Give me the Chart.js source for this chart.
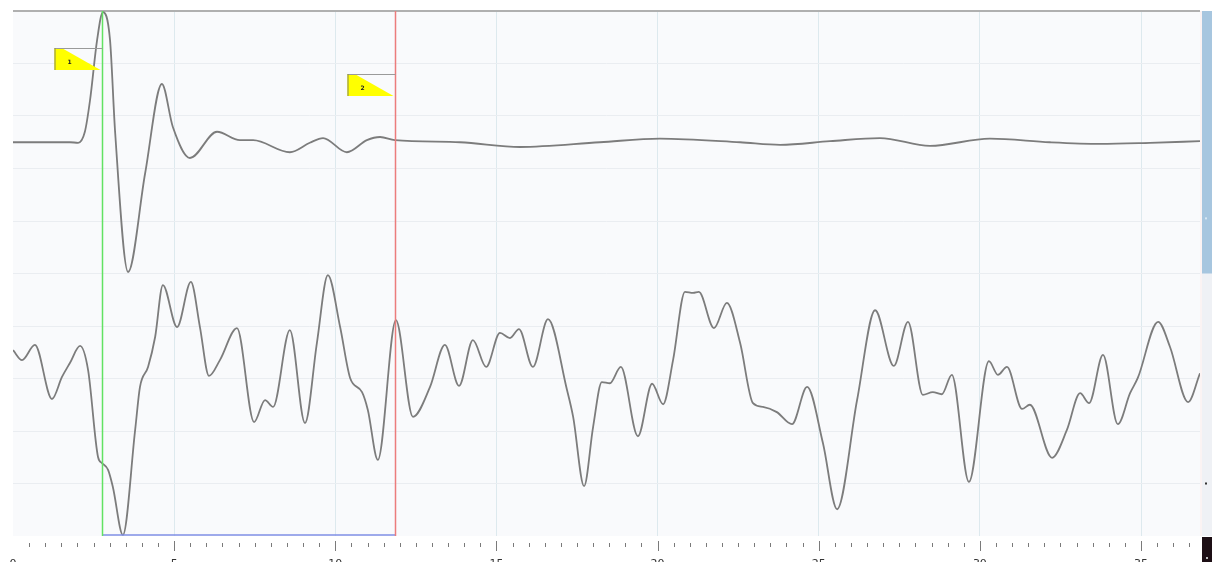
<!DOCTYPE html>
<html><head><meta charset="utf-8">
<script src="https://cdn.jsdelivr.net/npm/chart.js@4.4.1/dist/chart.umd.min.js"></script>
<style>
html,body{margin:0;padding:0;background:#fff;overflow:hidden;width:1212px;height:562px}
#wrap{position:relative;width:1212px;height:580px}
</style></head>
<body><div id="wrap"><canvas id="c"></canvas></div>
<script>
// x tick labels (every 5 units)
const xTickLabels = ['0','5','10','15','20','25','30','35'];

// upper trace
const topT = [0,1.77,2.02,2.23,2.39,2.61,2.79,3.01,3.17,3.57,
  4.10,4.62,4.96,5.49,6.33,7.04,7.45,8.59,9.21,9.62,
  10.36,10.98,11.39,11.85,13.87,15.73,18.21,20.07,22.56,23.80,
  25.35,26.90,28.45,30.31,32.17,33.73,35.28,36.83];
const topV = [7.50,7.50,7.49,7.70,8.30,9.45,9.98,9.45,7.68,5.03,
  6.91,8.61,7.79,7.20,7.70,7.54,7.54,7.31,7.49,7.58,
  7.31,7.54,7.60,7.54,7.50,7.41,7.50,7.57,7.50,7.45,
  7.52,7.58,7.43,7.57,7.50,7.47,7.49,7.52];

// lower trace
const botT = [0,0.28,0.68,1.21,1.52,1.77,2.08,2.33,2.64,2.76,
  2.95,3.10,3.41,3.79,3.94,4.19,4.41,4.65,5.09,5.52,
  5.80,6.08,6.42,6.95,7.48,7.82,8.07,8.59,9.06,9.43,
  9.77,10.15,10.46,10.83,11.01,11.32,11.88,12.41,12.94,13.40,
  13.84,14.27,14.68,15.11,15.42,15.70,16.13,16.60,17.19,17.38,
  17.72,18.00,18.27,18.52,18.86,19.39,19.83,20.17,20.48,20.85,
  21.10,21.28,21.75,22.15,22.56,22.96,23.27,23.70,24.17,24.64,
  25.13,25.57,26.19,26.75,27.33,27.77,28.23,28.54,28.82,29.13,
  29.66,30.28,30.56,30.84,31.31,31.55,32.24,32.70,33.11,33.39,
  33.82,34.28,34.66,34.90,35.53,35.90,36.46,36.83];
const botV = [3.54,3.35,3.64,2.61,3.03,3.30,3.62,3.16,1.50,1.39,
  1.26,0.93,0.02,2.02,2.84,3.22,3.79,4.78,3.98,4.84,
  3.98,3.05,3.35,3.96,2.17,2.59,2.46,3.92,2.15,3.68,
  4.97,3.98,3.01,2.74,2.40,1.45,4.11,2.27,2.84,3.64,
  2.86,3.73,3.22,3.87,3.77,3.94,3.22,4.13,2.78,2.27,
  0.95,2.08,2.93,2.91,3.22,1.90,2.90,2.51,3.35,4.65,
  4.63,4.65,3.96,4.44,3.68,2.53,2.46,2.36,2.13,2.84,
  1.77,0.51,2.59,4.30,3.24,4.08,2.69,2.74,2.70,3.07,
  1.03,3.33,3.07,3.22,2.42,2.50,1.49,2.02,2.72,2.53,
  3.45,2.13,2.72,3.01,4.08,3.60,2.55,3.10];

// cursor markers
const markerT = [2.76, 11.85];
const markerLabels = ['1','2'];
const markerColors = ['#62e262','#ec7c7c'];
const flagV = [9.30, 8.80];

const X_MAX = 36.83, Y_MIN = 0, Y_MAX = 10;

const toPts = (t, v) => t.map((x, i) => ({x, y: v[i]}));

const deco = {
  id: 'deco',
  beforeDraw(chart) {
    const {ctx, chartArea: a, scales: {y}} = chart;
    ctx.save();
    ctx.fillStyle = '#f9fafc';
    ctx.fillRect(a.left, a.top, a.right - a.left, a.bottom - a.top);
    // right side panel
    ctx.fillStyle = '#fbf3f3';
    ctx.fillRect(a.right, a.top, 2, a.bottom - a.top);
    ctx.fillStyle = '#eff1f5';
    ctx.fillRect(a.right + 2, a.top, chart.width - a.right - 2, a.bottom - a.top);
    ctx.fillStyle = '#a7c6df';
    const yb = y.getPixelForValue(5);
    ctx.fillRect(a.right + 2, a.top, chart.width - a.right - 2, yb - a.top);
    ctx.fillStyle = '#d8e6f2';
    ctx.fillRect(a.right + 5, y.getPixelForValue(6.05) - 1, 2, 2);
    ctx.fillStyle = '#333';
    ctx.fillRect(a.right + 5, y.getPixelForValue(1.0) - 1, 2, 2);
    // corner box
    ctx.fillStyle = '#1d0f15';
    ctx.fillRect(a.right + 2, a.bottom + 1, chart.width - a.right - 2, chart.height - a.bottom);
    ctx.fillStyle = '#bbb';
    ctx.fillRect(a.right + 6, a.bottom + 21, 2, 2);
    ctx.restore();
  },
  afterDatasetsDraw(chart) {
    const {ctx, chartArea: a, scales: {x, y}} = chart;
    ctx.save();
    const px = markerT.map(t => Math.round(x.getPixelForValue(t)) + 0.5);
    // baseline between markers
    ctx.strokeStyle = '#7f8fe6';
    ctx.lineWidth = 1.5;
    ctx.beginPath();
    ctx.moveTo(px[0], a.bottom - 1);
    ctx.lineTo(px[1], a.bottom - 1);
    ctx.stroke();
    // marker lines
    px.forEach((p, i) => {
      ctx.strokeStyle = markerColors[i];
      ctx.lineWidth = 1.5;
      ctx.beginPath();
      ctx.moveTo(p, a.top);
      ctx.lineTo(p, a.bottom);
      ctx.stroke();
    });
    // flags
    px.forEach((p, i) => {
      const top = Math.round(y.getPixelForValue(flagV[i]));
      const w = 48, h = 22, left = p - w;
      ctx.fillStyle = '#ffff00';
      ctx.beginPath();
      ctx.moveTo(left, top + 1);
      ctx.lineTo(left + 9, top + 1);
      ctx.lineTo(p - 2, top + h);
      ctx.lineTo(left, top + h);
      ctx.closePath();
      ctx.fill();
      ctx.strokeStyle = '#9a9a9a';
      ctx.lineWidth = 1.2;
      ctx.beginPath();
      ctx.moveTo(left, top + 0.5);
      ctx.lineTo(p, top + 0.5);
      ctx.stroke();
      ctx.strokeStyle = '#9a9a40';
      ctx.beginPath();
      ctx.moveTo(left + 0.5, top);
      ctx.lineTo(left + 0.5, top + h);
      ctx.stroke();
      ctx.fillStyle = '#222';
      ctx.font = 'bold 6px "DejaVu Sans"';
      ctx.textAlign = 'center';
      ctx.textBaseline = 'middle';
      ctx.fillText(markerLabels[i], left + 15, top + 14);
    });
    ctx.restore();
  },
  afterDraw(chart) {
    const {ctx, chartArea: a, scales: {x}} = chart;
    ctx.save();
    ctx.strokeStyle = '#7a7a7a';
    ctx.lineWidth = 1;
    for (let k = 1; k * 0.5 < X_MAX; k++) {
      const v = k * 0.5;
      const p = Math.round(x.getPixelForValue(v)) + 0.5;
      const major = k % 10 === 0;
      ctx.beginPath();
      ctx.moveTo(p, a.bottom + (major ? 5 : 7));
      ctx.lineTo(p, a.bottom + (major ? 15 : 11));
      ctx.stroke();
    }
    ctx.restore();
  }
};

new Chart(document.getElementById('c'), {
  type: 'line',
  data: {
    datasets: [
      {data: toPts(topT, topV)},
      {data: toPts(botT, botV)}
    ]
  },
  options: {
    responsive: true,
    maintainAspectRatio: false,
    animation: false,
    parsing: true,
    layout: {padding: {left: 13, top: 11, right: 12, bottom: 0}},
    elements: {
      line: {borderColor: '#7c7c7c', borderWidth: 1.8, cubicInterpolationMode: 'monotone', fill: false},
      point: {radius: 0, hoverRadius: 0}
    },
    plugins: {legend: {display: false}, tooltip: {enabled: false}},
    events: [],
    scales: {
      x: {
        type: 'linear', min: 0, max: X_MAX,
        border: {display: false},
        grid: {
          drawTicks: false,
          color: c => (c.tick && c.tick.value === 0) ? 'rgba(0,0,0,0)' : '#dde9ee',
          lineWidth: 1
        },
        ticks: {
          stepSize: 5, includeBounds: false, autoSkip: false, maxRotation: 0,
          padding: 22, color: '#333', font: {family: 'DejaVu Sans', size: 11},
          callback: v => (v % 5 === 0) ? xTickLabels[v / 5] : ''
        },
        afterFit: s => { s.height = 44; s.paddingLeft = 0; s.paddingRight = 0; }
      },
      y: {
        min: Y_MIN, max: Y_MAX,
        border: {display: false},
        grid: {
          drawTicks: false,
          color: c => c.tick.value === Y_MAX ? '#b0b0b0' : (c.tick.value === Y_MIN ? 'rgba(0,0,0,0)' : '#eaedf1'),
          lineWidth: c => c.tick.value === Y_MAX ? 2 : 1
        },
        ticks: {display: false, stepSize: 1, padding: 0},
        afterFit: s => { s.width = 0; s.paddingTop = 0; s.paddingBottom = 0; }
      }
    }
  },
  plugins: [deco]
});
</script>
</body></html>
